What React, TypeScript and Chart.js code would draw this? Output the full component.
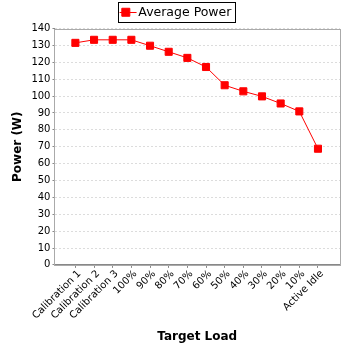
import React, { useEffect, useRef } from "react";
import { Chart, registerables } from "chart.js";

Chart.register(...registerables);

const categories = [
  "Calibration 1", "Calibration 2", "Calibration 3", "100%", "90%", "80%", "70%",
  "60%", "50%", "40%", "30%", "20%", "10%", "Active Idle",
];
const averagePower = [131.5, 133.3, 133.3, 133.3, 129.8, 126.2, 122.6, 117.2, 106.4, 102.8, 99.8, 95.6, 90.9, 68.8];
const yTicks = [0, 10, 20, 30, 40, 50, 60, 70, 80, 90, 100, 110, 120, 130, 140];

const FONT = "'DejaVu Sans', sans-serif";

const framePlugin = {
  id: "frame",
  afterDraw(chart: any) {
    const { ctx, chartArea } = chart;
    ctx.save();
    ctx.strokeStyle = "#aaaaaa";
    ctx.lineWidth = 1;
    ctx.strokeRect(Math.round(chartArea.left) + 0.5, Math.round(chartArea.top) + 0.5,
      Math.round(chartArea.right - chartArea.left), Math.round(chartArea.bottom - chartArea.top));
    const lg = chart.legend;
    if (lg && lg.legendHitBoxes && lg.legendHitBoxes.length) {
      const hb = lg.legendHitBoxes[0];
      ctx.strokeStyle = "#000000";
      const x0 = Math.round(hb.left) - 2 + 0.5;
      const y0 = 2.5;
      const w = Math.round(hb.width) + 5;
      ctx.strokeRect(x0, y0, w, 20);
      ctx.strokeStyle = "#ff0000";
      ctx.beginPath();
      ctx.moveTo(hb.left, y0 + 10);
      ctx.lineTo(hb.left + 17, y0 + 10);
      ctx.stroke();
    }
    ctx.restore();
  },
};

export default function App() {
  const ref = useRef<HTMLCanvasElement>(null);
  useEffect(() => {
    document.body.style.margin = "0";
    const chart = new Chart(ref.current!, {
      type: "line",
      data: {
        datasets: [
          {
            label: "Average Power",
            data: averagePower.map((v, i) => ({ x: i, y: v })),
            borderColor: "#ff0000",
            backgroundColor: "#ff0000",
            borderWidth: 1,
            pointStyle: "rect",
            pointRadius: 5,
            pointHoverRadius: 5,
            tension: 0,
          },
        ],
      },
      options: {
        animation: false,
        responsive: false,
        layout: { padding: { left: 11, right: 8, top: 0, bottom: 4 } },
        plugins: {
          tooltip: { enabled: false },
          legend: {
            display: true,
            position: "top",
            labels: {
              font: { family: FONT, size: 12.5 },
              color: "#000",
              usePointStyle: true,
              pointStyle: "rect",
              boxWidth: 14,
              boxHeight: 8,
              padding: 6,
            },
          },
        },
        scales: {
          x: {
            type: "linear",
            min: -1.12,
            max: 14.18,
            afterBuildTicks: (scale: any) => {
              scale.ticks = categories.map((_, i) => ({ value: i }));
            },
            ticks: {
              autoSkip: false,
              minRotation: 45,
              maxRotation: 45,
              font: { family: FONT, size: 10 },
              color: "#000",
              padding: 0,
              labelOffset: 4,
              callback: (v: any) => categories[v as number] ?? "",
            },
            grid: { display: true, drawOnChartArea: false, tickLength: 3, color: "#888" },
            border: { display: true, color: "#888" },
            title: {
              display: true,
              text: "Target Load",
              font: { family: FONT, size: 12, weight: "bold" },
              color: "#000",
              padding: { top: 8, bottom: 0 },
            },
          },
          y: {
            min: 0,
            max: 140,
            afterBuildTicks: (scale: any) => {
              scale.ticks = yTicks.map((v) => ({ value: v }));
            },
            ticks: {
              font: { family: FONT, size: 10 },
              color: "#000",
              padding: 2,
            },
            grid: {
              color: "#dcdcdc",
              tickColor: "#888",
              tickBorderDash: [0, 0],
              tickLength: 2,
            } as any,
            border: { display: true, color: "#888", dash: [2, 2] },
            title: {
              display: true,
              text: "Power (W)",
              font: { family: FONT, size: 12, weight: "bold" },
              color: "#000",
              padding: { top: 0, bottom: 4 },
            },
          },
        },
      } as any,
      plugins: [framePlugin],
    });
    return () => chart.destroy();
  }, []);
  return (
    <div style={{ position: "absolute", left: 0, top: 0, width: 348, height: 348, background: "#fff" }}>
      <canvas ref={ref} width={348} height={348} style={{ width: 348, height: 348 }} />
    </div>
  );
}
